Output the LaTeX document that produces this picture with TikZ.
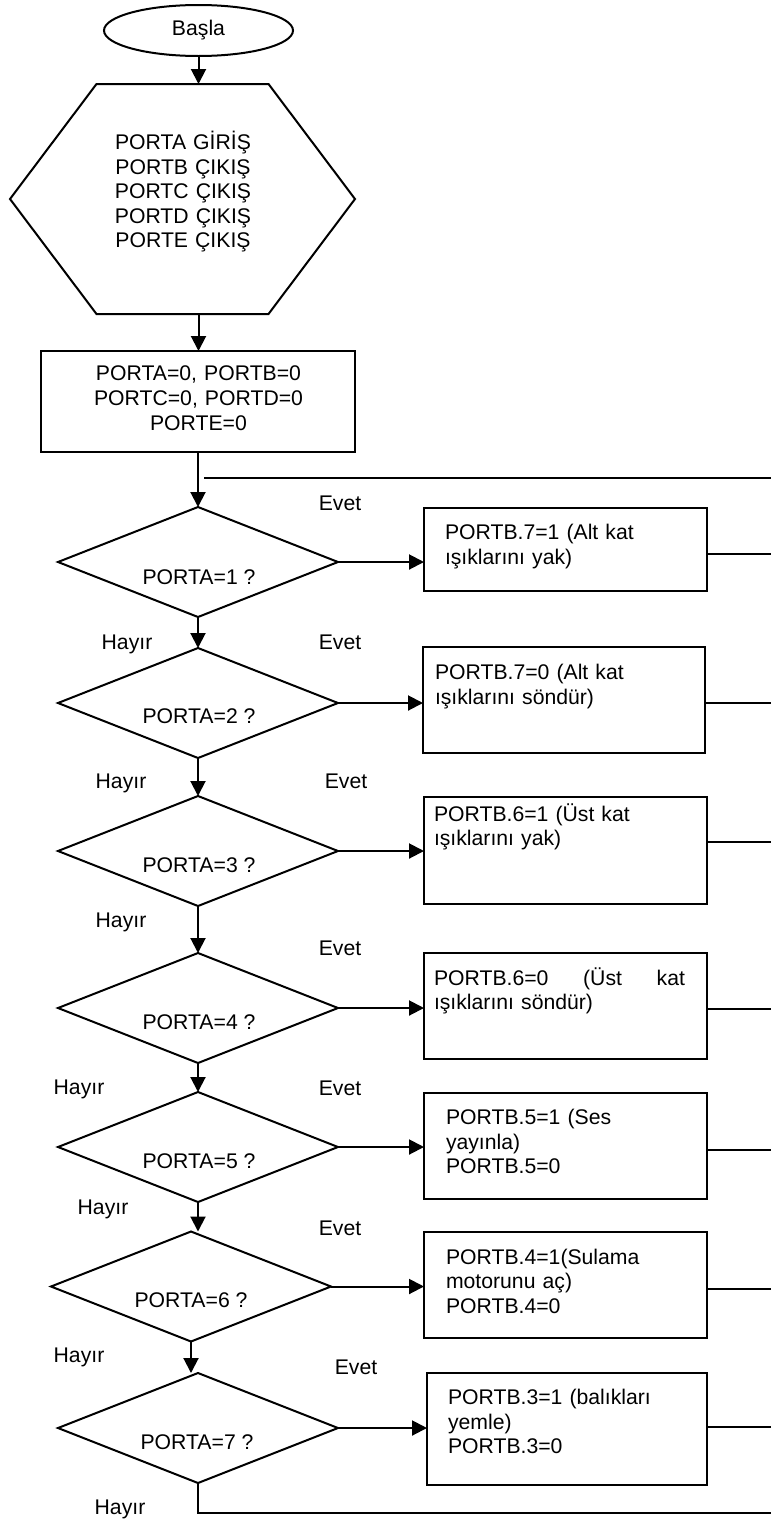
\documentclass[tikz,border=0pt]{standalone}
\usepackage{fontspec}
\setmainfont{Liberation Sans}
\usetikzlibrary{arrows.meta,shapes.geometric,calc}
\begin{document}
\begin{tikzpicture}[x=0.5pt,y=-0.5pt,
  line width=1pt,
  every node/.style={inner sep=0pt, outer sep=0pt, font=\fontsize{10.6pt}{12.25pt}\selectfont},
  arr/.style={-{Triangle[length=7.5pt,width=7.5pt]}},
  boxnode/.style={draw, rectangle},
  dec/.style={draw, diamond, minimum width=140pt, minimum height=55pt},
  ltxt/.style={anchor=base west, text width=135pt, align=left},
  ctxt/.style={anchor=base, text width=160pt, align=center},
  lbl/.style={anchor=base}]
\useasboundingbox (0,0) rectangle (771,1521);

% start
\node[draw, ellipse, minimum width=94.5pt, minimum height=25.5pt] (start) at (198.5,30.5) {Başla};

% hexagon
\node[minimum width=172.5pt, minimum height=115pt] (hex) at (182.5,199) {};
\draw ($(hex.north west)+(86.5,0)$) -- ($(hex.north east)+(-86.5,0)$) -- (hex.east)
  -- ($(hex.south east)+(-86.5,0)$) -- ($(hex.south west)+(86.5,0)$) -- (hex.west) -- cycle;
\node[ctxt] (hext) at (183,149.5) {PORTA GİRİŞ\\PORTB ÇIKIŞ\\PORTC ÇIKIŞ\\PORTD ÇIKIŞ\\PORTE ÇIKIŞ};

% init box
\node[boxnode, minimum width=157pt, minimum height=50.5pt] (init) at (198,401.5) {};
\node[ctxt, font=\fontsize{10.6pt}{12.5pt}\selectfont] (initt) at (198.5,380.5) {PORTA=0, PORTB=0\\PORTC=0, PORTD=0\\PORTE=0};

% decisions
\node[dec] (d1) at (198,562) {};
\node[dec] (d2) at (198,703) {};
\node[dec] (d3) at (198,851) {};
\node[dec] (d4) at (198,1008) {};
\node[dec] (d5) at (198,1147) {};
\node[dec] (d6) at (191,1286.5) {};
\node[dec] (d7) at (198,1428) {};
\node[lbl] (d1t) at (199,584.5) {PORTA=1 ?};
\node[lbl] (d2t) at (199,723.5) {PORTA=2 ?};
\node[lbl] (d3t) at (199,872.5) {PORTA=3 ?};
\node[lbl] (d4t) at (199,1029.5) {PORTA=4 ?};
\node[lbl] (d5t) at (199,1168.5) {PORTA=5 ?};
\node[lbl] (d6t) at (191,1307.5) {PORTA=6 ?};
\node[lbl] (d7t) at (197,1449.5) {PORTA=7 ?};

% action boxes
\node[boxnode, minimum width=141.5pt, minimum height=41.5pt] (r1) at (565.5,549.5) {};
\node[boxnode, minimum width=141pt, minimum height=53pt] (r2) at (564,700) {};
\node[boxnode, minimum width=141.5pt, minimum height=53.5pt] (r3) at (565.5,850.5) {};
\node[boxnode, minimum width=141.5pt, minimum height=53pt] (r4) at (565.5,1006) {};
\node[boxnode, minimum width=141.5pt, minimum height=53pt] (r5) at (565.5,1146) {};
\node[boxnode, minimum width=141.5pt, minimum height=53pt] (r6) at (565.5,1285) {};
\node[boxnode, minimum width=140pt, minimum height=56pt] (r7) at (567,1429) {};

\node[ltxt] (r1t) at (445,539.5) {PORTB.7=1 (Alt kat\\ışıklarını yak)};
\node[ltxt] (r2t) at (435,679.5) {PORTB.7=0 (Alt kat\\ışıklarını söndür)};
\node[ltxt] (r3t) at (434,821) {PORTB.6=1 (Üst kat\\ışıklarını yak)};
\node[ltxt, text width=125.5pt] (r4t) at (434,985) {PORTB.6=0\hfill(Üst\hfill kat\\ışıklarını söndür)};
\node[ltxt] (r5t) at (446,1124.5) {PORTB.5=1 (Ses\\yayınla)\\PORTB.5=0};
\node[ltxt] (r6t) at (446,1264) {PORTB.4=1(Sulama\\motorunu aç)\\PORTB.4=0};
\node[ltxt] (r7t) at (448,1404.5) {PORTB.3=1 (balıkları\\yemle)\\PORTB.3=0};

% Evet / Hayir labels
\node[lbl] (e0) at (340,510.5) {Evet};
\node[lbl] (e1) at (340,649.5) {Evet};
\node[lbl] (e2) at (346,788.5) {Evet};
\node[lbl] (e3) at (340,955.5) {Evet};
\node[lbl] (e4) at (340,1095.5) {Evet};
\node[lbl] (e5) at (340,1235.5) {Evet};
\node[lbl] (e6) at (356,1374.5) {Evet};
\node[lbl] (h1) at (127,649.5) {Hayır};
\node[lbl] (h2) at (121,788.5) {Hayır};
\node[lbl] (h3) at (121,927.5) {Hayır};
\node[lbl] (h4) at (79,1094.5) {Hayır};
\node[lbl] (h5) at (103,1214.5) {Hayır};
\node[lbl] (h6) at (79,1362.5) {Hayır};
\node[lbl] (h7) at (120,1514.5) {Hayır};

% main flow
\draw[arr] (start.south) -- (start.south |- hex.north);
\draw[arr] (start.south |- hex.south) -- (start.south |- init.north);
\draw[arr] (init.south) -- (d1.north);
\draw[arr] (d1.south) -- (d2.north);
\draw[arr] (d2.south) -- (d3.north);
\draw[arr] (d3.south) -- (d4.north);
\draw[arr] (d4.south) -- (d5.north);
\draw[arr] (d5.south) -- (d5.south |- d6.north);
\draw[arr] (d6.south) -- (d6.south |- d7.north);

% yes branches
\draw[arr] (d1.east) -- (d1.east -| r1.west);
\draw[arr] (d2.east) -- (d2.east -| r2.west);
\draw[arr] (d3.east) -- (d3.east -| r3.west);
\draw[arr] (d4.east) -- (d4.east -| r4.west);
\draw[arr] (d5.east) -- (d5.east -| r5.west);
\draw[arr] (d6.east) -- (d6.east -| r6.west);
\draw[arr] (d7.east) -- (d7.east -| r7.west);

% return lines to the right edge
\coordinate (o1) at (771,554);
\coordinate (o2) at (771,703);
\coordinate (o3) at (771,842);
\coordinate (o4) at (771,1009);
\coordinate (o5) at (771,1150);
\coordinate (o6) at (771,1289);
\coordinate (o7) at (771,1427);
\draw (o1 -| r1.east) -- (o1);
\draw (o2 -| r2.east) -- (o2);
\draw (o3 -| r3.east) -- (o3);
\draw (o4 -| r4.east) -- (o4);
\draw (o5 -| r5.east) -- (o5);
\draw (o6 -| r6.east) -- (o6);
\draw (o7 -| r7.east) -- (o7);

% loop line and last no branch
\coordinate (loopL) at (204,478);
\coordinate (loopR) at (771,478);
\draw (loopL) -- (loopR);
\coordinate (endR) at (771,1513);
\draw (d7.south) |- (endR);
\end{tikzpicture}
\end{document}
